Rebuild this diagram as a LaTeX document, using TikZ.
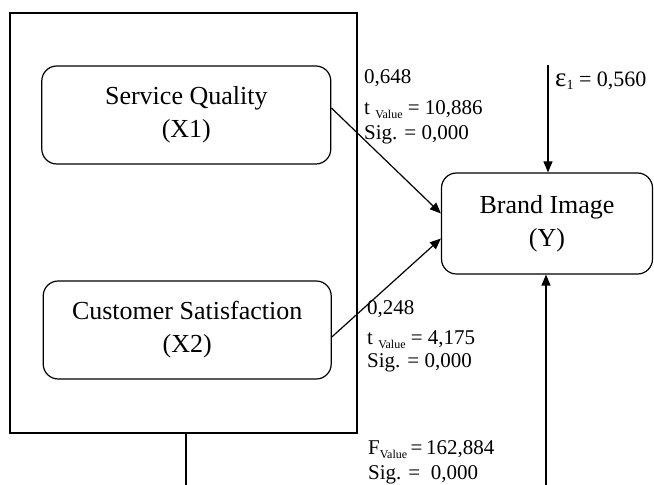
\documentclass[tikz,border=0pt]{standalone}
\usepackage{fontspec}
\setmainfont{Liberation Serif}
\usetikzlibrary{arrows.meta}
\newcommand\vsub{\raisebox{-4pt}{\fontsize{12}{12}\selectfont Value}}
\tikzset{
  varbox/.style={draw, line width=1.2pt, rounded corners=15pt, align=center,
    font=\fontsize{26}{33}\selectfont, inner sep=0pt},
  outerbox/.style={draw, line width=1.2pt, inner sep=0pt},
  lab/.style={anchor=base west, inner sep=0pt, font=\fontsize{21}{21}\selectfont},
  conn/.style={line width=1.2pt},
  arr/.style={line width=1.2pt, -{Triangle[length=11pt,width=9pt]}}
}
\begin{document}
\begin{tikzpicture}[x=1pt,y=1pt]
\useasboundingbox (0,0) rectangle (654,485);
\node[outerbox, minimum width=347pt, minimum height=420pt] (outer) at (183.5,262) {};
\node[varbox, minimum width=289pt, minimum height=98pt] (sq) at (186.3,370) {Service Quality\\(X1)};
\node[varbox, minimum width=288pt, minimum height=98pt] (cs) at (187.2,155) {Customer Satisfaction\\(X2)};
\node[varbox, minimum width=211pt, minimum height=101pt] (bi) at (547,261.5) {Brand Image\\(Y)};
\coordinate (eps) at (548,420);
\coordinate (fbot) at (546,0);
\coordinate (lbot) at (186,0);
\draw[arr] ([yshift=7pt]sq.east) -- ([yshift=10pt]bi.west);
\draw[arr] ([yshift=-7pt]cs.east) -- ([yshift=-15pt]bi.west);
\draw[arr] (eps) -- (eps |- bi.north);
\draw[arr] (fbot) -- (fbot |- bi.south);
\draw[conn] (lbot |- outer.south) -- (lbot);
\node[lab] (l1a) at (364,401) {0,648};
\node[lab] (l1b) at (364,370) {t \vsub{} = 10,886};
\node[lab] (l1c) at (364,345) {Sig. = 0,000};
\node[lab] (l2a) at (367,170) {0,248};
\node[lab] (l2b) at (367,140) {t \vsub{} = 4,175};
\node[lab] (l2c) at (367,117) {Sig. = 0,000};
\node[lab] (l3a) at (368,30) {F\vsub{}\,=\,162,884};
\node[lab] (l3b) at (368,5) {Sig. =\ \ 0,000};
\node[lab, font=\fontsize{22}{22}\selectfont] (eps1) at (555,398) {{\fontsize{27}{27}\selectfont ε}\raisebox{-3pt}{\fontsize{14}{14}\selectfont 1} = 0,560};
\end{tikzpicture}
\end{document}
